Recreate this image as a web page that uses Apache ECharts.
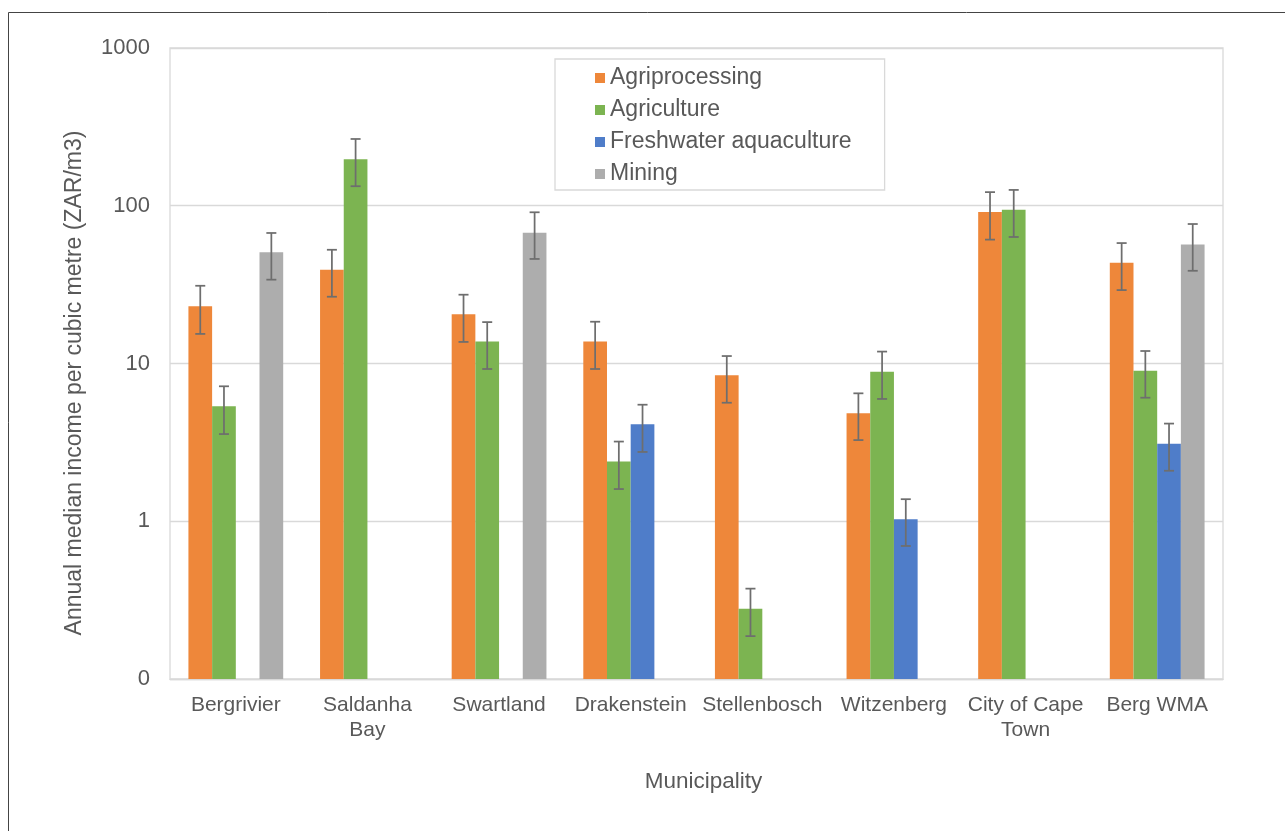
<!DOCTYPE html>
<html>
<head>
<meta charset="utf-8">
<script src="https://cdn.jsdelivr.net/npm/echarts@6/dist/echarts.min.js"></script>
<style>
  html, body { margin: 0; padding: 0; background: #fff; }
  #chart { width: 1285px; height: 831px; }
</style>
</head>
<body>
<div id="chart"></div>
<script>
// Municipalities in the Berg water management area
const categories = ['Bergrivier', 'Saldanha\nBay', 'Swartland', 'Drakenstein', 'Stellenbosch', 'Witzenberg', 'City of Cape\nTown', 'Berg WMA'];

const seriesNames = ['Agriprocessing', 'Agriculture', 'Freshwater aquaculture', 'Mining'];
const seriesColors = ['#EE873A', '#7CB451', '#4F7DC9', '#ADADAD'];

// Median income (ZAR per m3) per sector; null = sector not present
const agriprocessing = [23.1, 39.3, 20.5, 13.8, 8.41, 4.83, 91.3, 43.5];
const agriculture    = [5.35, 197, 13.8, 2.39, 0.279, 8.87, 94.4, 9.0];
const aquaculture    = [null, null, null, 4.12, null, 1.03, null, 3.10];
const mining         = [50.7, null, 67.5, null, null, null, null, 56.9];

// Error bar bounds
const agriprocessingLow  = [15.4, 26.5, 13.7, 9.23, 5.64, 3.27, 61.0, 29.2];
const agriprocessingHigh = [31.1, 52.6, 27.3, 18.4, 11.15, 6.47, 122, 58.0];
const agricultureLow     = [3.57, 133, 9.23, 1.60, 0.187, 5.96, 63.4, 6.07];
const agricultureHigh    = [7.17, 265, 18.3, 3.20, 0.374, 11.9, 126, 12.0];
const aquacultureLow     = [null, null, null, 2.75, null, 0.697, null, 2.09];
const aquacultureHigh    = [null, null, null, 5.48, null, 1.38, null, 4.16];
const miningLow          = [34.0, null, 46.0, null, null, null, null, 38.7];
const miningHigh         = [67.2, null, 90.9, null, null, null, null, 76.6];

// Tick labels of the log axis (0.1 is shown rounded to "0")
const yTicks = [0.1, 1, 10, 100, 1000];
const yTickLabels = ['0', '1', '10', '100', '1000'];

const values = [agriprocessing, agriculture, aquaculture, mining];
const lows = [agriprocessingLow, agricultureLow, aquacultureLow, miningLow];
const highs = [agriprocessingHigh, agricultureHigh, aquacultureHigh, miningHigh];

const CATEGORY_GAP = 0.28;
const N_SERIES = seriesNames.length;
const FONT = '"Liberation Sans", Arial, sans-serif';
const TEXT_COLOR = '#595959';

function barWithErrorRenderer(seriesIdx) {
  return function (params, api) {
    const v = api.value(1);
    if (v == null || isNaN(v)) return null;
    const ci = api.value(0);
    const lo = api.value(2);
    const hi = api.value(3);
    const cs = params.coordSys;
    const band = cs.width / categories.length;
    const groupW = band * (1 - CATEGORY_GAP);
    const barW = groupW / N_SERIES;
    const top = api.coord([ci, v]);
    const x0 = top[0] - groupW / 2 + seriesIdx * barW;
    const base = cs.y + cs.height;
    const children = [{
      type: 'rect',
      shape: { x: x0, y: top[1], width: barW, height: base - top[1] },
      style: { fill: seriesColors[seriesIdx] }
    }];
    if (lo != null && hi != null && !isNaN(lo) && !isNaN(hi)) {
      const cx = x0 + barW / 2;
      const yHi = api.coord([ci, hi])[1];
      const yLo = api.coord([ci, lo])[1];
      const cap = 5;
      const errStyle = { stroke: '#6E6E6E', lineWidth: 1.75 };
      children.push(
        { type: 'line', shape: { x1: cx, y1: yHi, x2: cx, y2: yLo }, style: errStyle },
        { type: 'line', shape: { x1: cx - cap, y1: yHi, x2: cx + cap, y2: yHi }, style: errStyle },
        { type: 'line', shape: { x1: cx - cap, y1: yLo, x2: cx + cap, y2: yLo }, style: errStyle }
      );
    }
    return { type: 'group', children: children };
  };
}

const series = seriesNames.map((name, si) => ({
  name: name,
  type: 'custom',
  renderItem: barWithErrorRenderer(si),
  itemStyle: { color: seriesColors[si] },
  encode: { x: 0, y: 1 },
  data: categories.map((c, ci) => [ci, values[si][ci], lows[si][ci], highs[si][ci]])
}));

const chart = echarts.init(document.getElementById('chart'), null, { renderer: 'canvas' });

chart.setOption({
  backgroundColor: '#ffffff',
  animation: false,
  graphic: [
    {
      // outer frame of the figure
      type: 'rect',
      shape: { x: 8.5, y: 12.5, width: 1400, height: 1000 },
      style: { fill: 'none', stroke: '#444444', lineWidth: 1 },
      silent: true,
      z: -1
    },
    {
      // value axis title
      type: 'text',
      x: 75,
      y: 383,
      rotation: Math.PI / 2,
      style: {
        text: 'Annual median income per cubic metre (ZAR/m3)',
        fontFamily: FONT,
        fontSize: 23,
        fill: TEXT_COLOR,
        align: 'center',
        verticalAlign: 'middle'
      },
      silent: true
    }
  ],
  grid: {
    left: 170, right: 62, top: 48, bottom: 152,
    show: true,
    borderColor: '#D9D9D9',
    borderWidth: 1.3,
    containLabel: false
  },
  legend: {
    orient: 'vertical',
    left: 555,
    top: 59,
    padding: [7, 33, 4, 40],
    itemGap: 8,
    itemWidth: 10,
    itemHeight: 10,
    icon: 'rect',
    backgroundColor: '#ffffff',
    borderColor: '#D9D9D9',
    borderWidth: 1.3,
    textStyle: { fontFamily: FONT, fontSize: 23, color: TEXT_COLOR, lineHeight: 24 },
    data: seriesNames
  },
  xAxis: {
    type: 'category',
    data: categories,
    name: 'Municipality',
    nameLocation: 'middle',
    nameGap: 91,
    nameTextStyle: { fontFamily: FONT, fontSize: 22.5, color: TEXT_COLOR, padding: [0, 0, 0, 14] },
    axisLine: { show: true, lineStyle: { color: '#D9D9D9', width: 1.3 } },
    axisTick: { show: false },
    axisLabel: {
      interval: 0,
      margin: 14,
      fontFamily: FONT,
      fontSize: 21,
      lineHeight: 25,
      color: TEXT_COLOR
    }
  },
  yAxis: {
    type: 'log',
    logBase: 10,
    min: yTicks[0],
    max: yTicks[yTicks.length - 1],
    axisLine: { show: false },
    axisTick: { show: false },
    splitLine: { show: true, lineStyle: { color: '#D9D9D9', width: 1.3 } },
    axisLabel: {
      margin: 20,
      fontFamily: FONT,
      fontSize: 22,
      color: TEXT_COLOR,
      padding: [4, 0, 0, 0],
      formatter: function (v) {
        let best = 0;
        yTicks.forEach((t, i) => {
          if (Math.abs(Math.log10(t) - Math.log10(v)) < Math.abs(Math.log10(yTicks[best]) - Math.log10(v))) best = i;
        });
        return yTickLabels[best];
      }
    }
  },
  series: series
});
</script>
</body>
</html>
